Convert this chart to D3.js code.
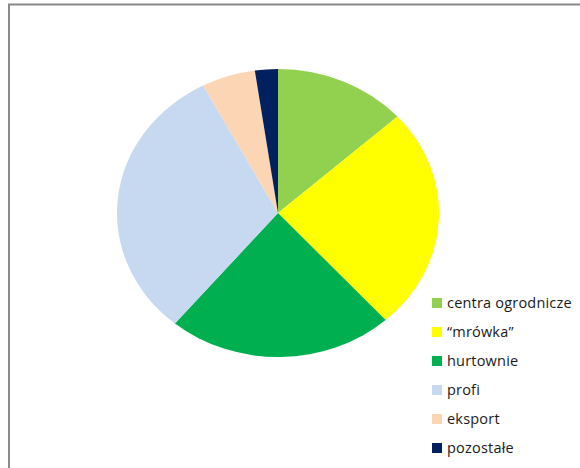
<!DOCTYPE html>
<html>
<head>
<meta charset="utf-8">
<script src="https://cdn.jsdelivr.net/npm/d3@7"></script>
<style>
  body { margin: 0; background: #fff; }
</style>
</head>
<body>
<div id="main"></div>
<script>
const categories = ["centra ogrodnicze", "\u201Cmr\u00F3wka\u201D", "hurtownie", "profi", "eksport", "pozostałe"];
const values = [13.3, 25.0, 22.7, 31.2, 5.4, 2.3];
const colors = ["#92D050", "#FFFF00", "#00B050", "#C6D9F1", "#FCD5B5", "#002060"];

const width = 580, height = 468;

const svg = d3.select("#main")
  .append("svg")
  .attr("width", width)
  .attr("height", height);

// frame (only top and left edges visible)
svg.append("path")
  .attr("d", `M9,${height} L9,4.5 L${width},4.5`)
  .attr("fill", "none")
  .attr("stroke", "#8a8a8a")
  .attr("stroke-width", 2);

const data = categories.map((c, i) => ({ name: c, value: values[i], color: colors[i] }));

const pie = d3.pie().value(d => d.value).sort(null);
const ry = 144, rx = 161;
const arc = d3.arc().innerRadius(0).outerRadius(ry);

// pie is slightly stretched horizontally in the original
const g = svg.append("g")
  .attr("transform", `translate(278,213) scale(${rx / ry},1)`);

g.selectAll("path")
  .data(pie(data))
  .join("path")
  .attr("d", arc)
  .attr("fill", d => d.data.color);

// legend
const legend = svg.append("g").attr("transform", "translate(432,303)");
const rows = legend.selectAll("g")
  .data(data)
  .join("g")
  .attr("transform", (d, i) => `translate(0,${i * 29})`);

rows.append("rect")
  .attr("x", 0)
  .attr("y", -5)
  .attr("width", 10)
  .attr("height", 10)
  .attr("fill", d => d.color);

rows.append("text")
  .attr("x", 15)
  .attr("y", 0)
  .attr("dy", "0.35em")
  .attr("font-family", "'Open Sans', sans-serif")
  .attr("font-size", 14.5)
  .attr("letter-spacing", 0.2)
  .attr("fill", "#1a1a1a")
  .text(d => d.name);
</script>
</body>
</html>
